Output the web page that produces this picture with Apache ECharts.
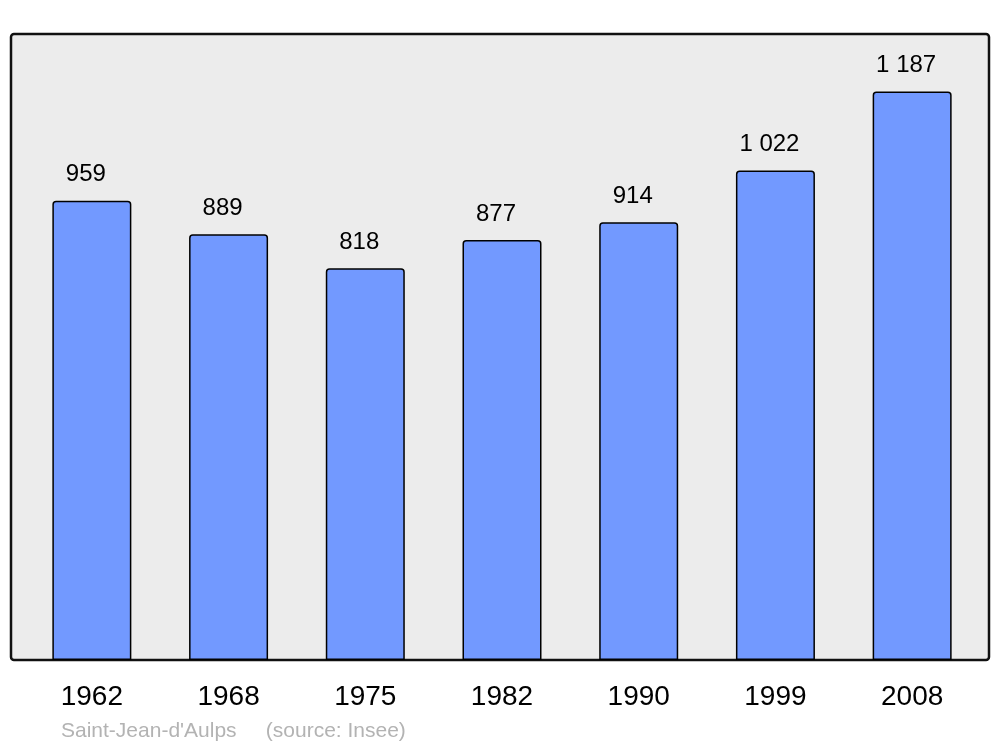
<!DOCTYPE html>
<html>
<head>
<meta charset="utf-8">
<script src="https://cdn.jsdelivr.net/npm/echarts@6/dist/echarts.min.js"></script>
<style>
  html, body { margin: 0; padding: 0; background: #fff; }
  #chart { width: 1000px; height: 747px; }
</style>
</head>
<body>
<div id="chart"></div>
<script>
// population by census year
const years = ['1962', '1968', '1975', '1982', '1990', '1999', '2008'];
const population = [959, 889, 818, 877, 914, 1022, 1187];
const footer = "Saint-Jean-d'Aulps     (source: Insee)";

const fmt = (v) => String(v).replace(/\B(?=(\d{3})+(?!\d))/g, ' ');

const myChart = echarts.init(document.getElementById('chart'));
const option = {
  backgroundColor: '#ffffff',
  animation: false,
  textStyle: { fontFamily: 'Liberation Sans, Arial, sans-serif' },
  title: {
    text: footer,
    left: 61,
    top: 721,
    padding: 0,
    textStyle: {
      fontFamily: 'Liberation Sans, Arial, sans-serif',
      fontSize: 21,
      fontWeight: 'normal',
      color: '#b3b3b3',
    },
  },
  graphic: [
    {
      type: 'rect',
      z: -1,
      shape: { x: 11, y: 34, width: 978, height: 626, r: 3 },
      style: { fill: '#ececec', stroke: '#111111', lineWidth: 2.5 },
    },
  ],
  grid: {
    left: 23.5,
    right: 19.5,
    top: 34,
    bottom: 87,
  },
  xAxis: {
    type: 'category',
    data: years,
    axisLine: { show: false },
    axisTick: { show: false },
    axisLabel: {
      margin: 23,
      fontSize: 28,
      color: '#000',
      fontFamily: 'Liberation Sans, Arial, sans-serif',
    },
  },
  yAxis: {
    type: 'value',
    min: 0,
    max: 1307,
    show: false,
    splitLine: { show: false },
  },
  series: [
    {
      type: 'bar',
      data: population,
      barWidth: 79,
      z: 5,
      itemStyle: {
        color: '#7299ff',
        borderColor: '#000',
        borderWidth: 1.5,
        borderRadius: [3, 3, 0, 0],
      },
      label: {
        show: true,
        position: 'top',
        distance: 14,
        offset: [-6, 0],
        fontSize: 24,
        color: '#000',
        fontFamily: 'Liberation Sans, Arial, sans-serif',
        formatter: (p) => fmt(p.value),
      },
    },
  ],
};
myChart.setOption(option);
window.addEventListener('resize', () => {
  myChart.resize();
});
</script>
</body>
</html>
